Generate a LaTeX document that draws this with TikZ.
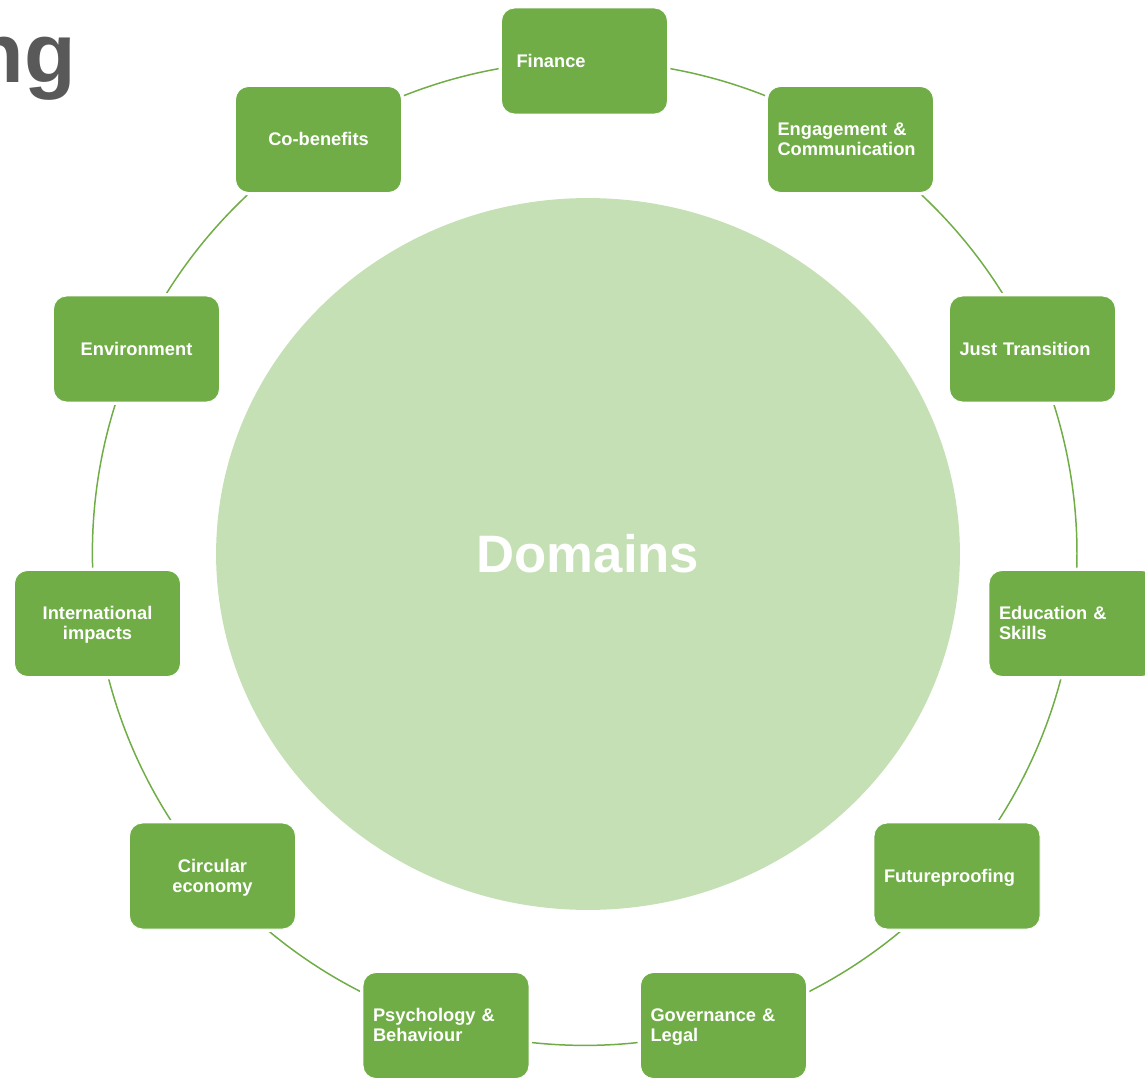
\documentclass[tikz,border=0pt]{standalone}
\usepackage{fontspec}
\setmainfont{Liberation Sans}
\usetikzlibrary{shapes.geometric,backgrounds}
\definecolor{boxgreen}{HTML}{70AD47}
\definecolor{centergreen}{HTML}{C5E0B4}
\definecolor{titlegray}{HTML}{595959}
\newcommand\boxfont{\bfseries\fontsize{10.4}{11.4}\selectfont}
\newcommand\boxstrut{\rule[-2.2pt]{0pt}{11.3pt}}
\begin{document}
\begin{tikzpicture}[x=0.02cm,y=-0.02cm,
  ringline/.style={draw=boxgreen, line width=0.85pt},
  domainbox/.style={fill=boxgreen, draw=white, line width=0.5pt, rounded corners=0.26cm,
    minimum width=3.32cm, minimum height=2.12cm, text width=2.92cm,
    inner xsep=0.2cm, inner ysep=0pt, text=white, font=\boxfont,
    execute at begin node=\boxstrut, execute at end node=\boxstrut,
    preaction={draw=white, line width=3.4pt}},
  leftaligned/.style={domainbox, align=left},
  centered/.style={domainbox, align=center},
  arcstyle/.style={ringline, bend left=16.36, looseness=0.87}]
\useasboundingbox (0,0) rectangle (1145,1078);
\clip (0,0) rectangle (1145,1078);

\node[anchor=base east, inner sep=0pt, text=titlegray,
  font=\bfseries\fontsize{48}{56}\selectfont] (title) at (76,83) {ng};

\node[ellipse, fill=centergreen, minimum width=14.88cm, minimum height=14.24cm,
  inner sep=0pt, text=white, font=\bfseries\fontsize{30}{36}\selectfont]
  (dom) at (588,554) {Domains};

\node[leftaligned, inner xsep=0.3cm, text width=2.72cm] (fin) at (584.5,61) {Finance};
\node[leftaligned] (eng) at (850.5,139.5) {Engagement \&\\Communication};
\node[leftaligned] (jus) at (1032.5,349) {Just Transition};
\node[leftaligned] (edu) at (1072,623.5) {Education \&\\Skills};
\node[leftaligned] (fut) at (957,876) {Futureproofing};
\node[leftaligned] (gov) at (723.5,1025.5) {Governance \&\\Legal};
\node[leftaligned] (psy) at (446,1025.5) {Psychology \&\\Behaviour};
\node[centered] (cir) at (212.5,876) {Circular\\economy};
\node[centered] (int) at (97.5,623.5) {International\\impacts};
\node[centered] (env) at (136.5,349) {Environment};
\node[centered] (cob) at (318.5,139.5) {Co-benefits};

\begin{pgfonlayer}{background}
\draw[arcstyle] (fin.center) to (eng.center);
\draw[arcstyle] (eng.center) to (jus.center);
\draw[arcstyle] (jus.center) to (edu.center);
\draw[arcstyle] (edu.center) to (fut.center);
\draw[arcstyle] (fut.center) to (gov.center);
\draw[arcstyle] (gov.center) to (psy.center);
\draw[arcstyle] (psy.center) to (cir.center);
\draw[arcstyle] (cir.center) to (int.center);
\draw[arcstyle] (int.center) to (env.center);
\draw[arcstyle] (env.center) to (cob.center);
\draw[arcstyle] (cob.center) to (fin.center);
\end{pgfonlayer}
\end{tikzpicture}
\end{document}
